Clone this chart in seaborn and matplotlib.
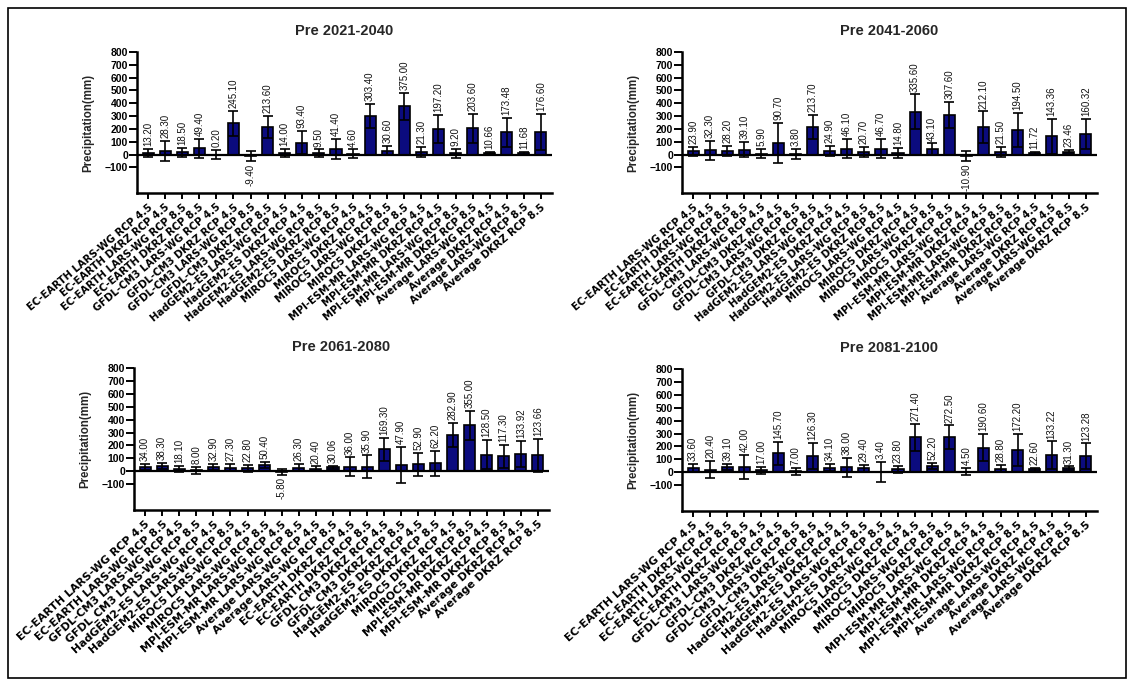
import numpy as np
import pandas as pd
import seaborn as sns
import matplotlib.pyplot as plt
from matplotlib.patches import Rectangle

sns.set_theme(style="ticks")
plt.rcParams['font.family'] = ['Liberation Sans', 'DejaVu Sans']

# ---------------- data ----------------
cats_mixed = [
    "EC-EARTH LARS-WG RCP 4.5", "EC-EARTH DKRZ RCP 4.5", "EC-EARTH LARS-WG RCP 8.5", "EC-EARTH DKRZ RCP 8.5",
    "GFDL-CM3 LARS-WG RCP 4.5", "GFDL-CM3 DKRZ RCP 4.5", "GFDL-CM3 LARS-WG RCP 8.5", "GFDL-CM3 DKRZ RCP 8.5",
    "HadGEM2-ES LARS-WG RCP 4.5", "HadGEM2-ES DKRZ RCP 4.5", "HadGEM2-ES LARS-WG RCP 8.5", "HadGEM2-ES DKRZ RCP 8.5",
    "MIROC5 LARS-WG RCP 4.5", "MIROC5 DKRZ RCP 4.5", "MIROC5 LARS-WG RCP 8.5", "MIROC5 DKRZ RCP 8.5",
    "MPI-ESM-MR LARS-WG RCP 4.5", "MPI-ESM-MR DKRZ RCP 4.5", "MPI-ESM-MR LARS-WG RCP 8.5", "MPI-ESM-MR DKRZ RCP 8.5",
    "Average LARS-WG RCP 4.5", "Average DKRZ RCP 4.5", "Average LARS-WG RCP 8.5", "Average DKRZ RCP 8.5",
]
cats_grouped = [
    "EC-EARTH LARS-WG RCP 4.5", "EC-EARTH LARS-WG RCP 8.5", "GFDL-CM3 LARS-WG RCP 4.5", "GFDL_CM3 LARS-WG RCP 8.5",
    "HadGEM2-ES LARS-WG RCP 4.5", "HadGEM2-ES LARS-WG RCP 8.5", "MIROC5 LARS-WG RCP 4.5", "MIROC5 LARS-WG RCP 8.5",
    "MPI-ESM-MR LARS-WG RCP 4.5", "MPI-ESM-MR LARS-WG RCP 8.5", "Average LARS-WG RCP 4.5", "Average LARS-WG RCP 8.5",
    "EC-EARTH DKRZ RCP 4.5", "EC-EARTH DKRZ RCP 8.5", "GFDL_CM3 DKRZ RCP 4.5", "GFDL_CM3 DKRZ RCP 8.5",
    "HadGEM2-ES DKRZ RCP 4.5", "HadGEM2-ES DKRZ RCP 8.5", "MIROC5 DKRZ RCP 4.5", "MIROC5 DKRZ RCP 8.5",
    "MPI-ESM-MR DKRZ RCP 4.5", "MPI-ESM-MR DKRZ RCP 8.5", "Average DKRZ RCP 4.5", "Average DKRZ RCP 8.5",
]

vals_2021 = [13.20, 28.30, 18.50, 49.40, 0.20, 245.10, -9.40, 213.60, 14.00, 93.40, 9.50, 41.40,
             4.60, 303.40, 30.60, 375.00, 21.30, 197.20, 9.20, 203.60, 10.66, 173.48, 11.68, 176.60]
err_2021 = [31, 80, 34, 75, 38, 98, 40, 85, 30, 89, 30, 79,
            35, 94, 34, 108, 38, 110, 35, 114, 10, 111, 12, 140]

vals_2041 = [23.90, 32.30, 28.20, 39.10, 5.90, 90.70, 3.80, 213.70, 24.90, 46.10, 20.70, 46.70,
             14.80, 335.60, 43.10, 307.60, -10.90, 212.10, 21.50, 194.50, 11.72, 143.36, 23.46, 160.32]
err_2041 = [36, 73, 38, 61, 36, 157, 38, 95, 40, 75, 40, 75,
            40, 133, 44, 103, 37, 125, 40, 132, 12, 136, 15, 120]

vals_2061 = [34.00, 38.30, 18.10, 8.00, 32.90, 27.30, 22.80, 50.40, -5.80, 26.30, 20.40, 30.06,
             36.00, 35.90, 169.30, 47.90, 52.90, 62.20, 282.90, 355.00, 128.50, 117.30, 133.92, 123.66]
err_2061 = [25, 24, 26, 28, 24, 27, 26, 24, 20, 28, 18, 14,
            72, 87, 92, 140, 88, 95, 92, 113, 114, 90, 100, 130]

vals_2081 = [33.60, 20.40, 39.10, 42.00, 17.00, 145.70, 7.00, 126.30, 34.10, 38.00, 29.40, 3.40,
             23.80, 271.40, 52.20, 272.50, 4.50, 190.60, 28.80, 172.20, 22.60, 133.22, 31.30, 123.28]
err_2081 = [29, 68, 25, 93, 27, 87, 25, 100, 28, 76, 28, 80,
            28, 105, 23, 91, 27, 105, 28, 124, 12, 106, 15, 100]

titles = ["Pre 2021-2040", "Pre 2041-2060", "Pre 2061-2080", "Pre 2081-2100"]
panels = [
    (cats_mixed, vals_2021, err_2021),
    (cats_mixed, vals_2041, err_2041),
    (cats_grouped, vals_2061, err_2061),
    (cats_mixed, vals_2081, err_2081),
]

# ---------------- layout ----------------
W, H = 1134, 682
fig = plt.figure(figsize=(W / 100, H / 100), dpi=100)
boxes = [(137, 52, 552, 193), (682, 52, 1097, 193), (134, 368, 549, 510), (682, 369, 1097, 511)]
label_fs = [7.3, 7.3, 7.9, 7.9]
label_rot = [40, 40, 42, 42]
navy = "#0b0b7e"

for k, ((cats, vals, errs), title, (l, t, r, b)) in enumerate(zip(panels, titles, boxes)):
    ax = fig.add_axes([l / W, 1 - b / H, (r - l) / W, (b - t) / H])
    df = pd.DataFrame({"cat": cats, "val": vals})
    sns.barplot(data=df, x="cat", y="val", ax=ax, color=navy, saturation=1,
                edgecolor="black", linewidth=1.2, width=0.65, errorbar=None)
    ax.errorbar(np.arange(len(vals)), vals, yerr=errs, fmt="none", ecolor="black",
                elinewidth=1.2, capsize=3.5, capthick=1.2, zorder=3)
    ax.axhline(0, color="black", lw=1.6, zorder=4)
    for i, (v, e) in enumerate(zip(vals, errs)):
        if v >= 0:
            ax.annotate(f"{v:.2f}", (i, v + e), xytext=(0, 2), textcoords="offset points",
                        rotation=90, ha="center", va="bottom", fontsize=7, color="#111111")
        else:
            ax.annotate(f"{v:.2f}", (i, v - e), xytext=(0, -2), textcoords="offset points",
                        rotation=90, ha="center", va="top", fontsize=7, color="#111111")
    ax.set_ylim(-300, 800)
    ax.set_yticks(range(-100, 801, 100))
    ax.set_xlim(-0.65, len(vals) - 0.35)
    for s in ["top", "right"]:
        ax.spines[s].set_visible(False)
    for s in ["left", "bottom"]:
        ax.spines[s].set_linewidth(1.8)
        ax.spines[s].set_color("black")
    ax.tick_params(axis="y", length=5.5, width=1.4, pad=1, labelsize=7.5, colors="black")
    ax.tick_params(axis="x", length=4.5, width=1.4, pad=2, colors="black")
    for lab in ax.get_yticklabels():
        lab.set_fontweight("bold")
    ax.set_xticks(range(len(cats)))
    ax.set_xticklabels(cats, rotation=label_rot[k], ha="right", rotation_mode="anchor",
                       fontweight="bold", fontsize=label_fs[k], family=["DejaVu Sans"])
    ax.set_xlabel("")
    ax.set_ylabel("Precipitation(mm)", fontsize=8.3, fontweight="bold")
    ax.yaxis.set_label_coords(-0.104, 0.5)
    ax.set_title(title, fontsize=10.5, fontweight="bold", pad=12)

fig.add_artist(Rectangle((8 / W, 4 / H), (W - 16) / W, (H - 12) / H, transform=fig.transFigure,
                         fill=False, edgecolor="black", lw=1.2))

fig.savefig("out.png", dpi=100, facecolor="white")
